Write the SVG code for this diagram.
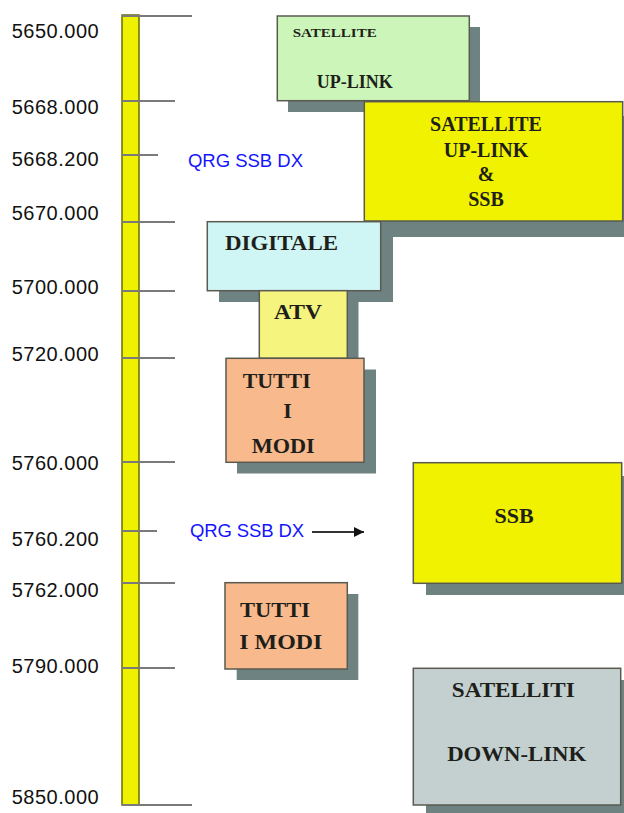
<svg xmlns="http://www.w3.org/2000/svg" width="624" height="813" viewBox="0 0 624 813">
<style>
.lbl{font-family:"Liberation Sans",Arial,sans-serif;font-size:20px;fill:#111}
.qrg{font-family:"Liberation Sans",Arial,sans-serif;font-size:18.5px;fill:#1414ff}
.bt{font-family:"Liberation Serif","Times New Roman",serif;font-weight:bold;font-size:22px;fill:#1e1e1a}
.tick{stroke:#7a7a7a;stroke-width:2}
.shadow{fill:#6f8282}
.box{stroke:#5a5a50;stroke-width:1.5}
</style>
<defs>
<marker id="ah" viewBox="0 0 10 10" refX="10" refY="5" markerWidth="16" markerHeight="10" markerUnits="userSpaceOnUse" orient="auto">
<path d="M0,0 L10,5 L0,10 Z" fill="#111"/>
</marker>
</defs>
<rect width="624" height="813" fill="#fff"/>
<g id="axis">
<rect x="122" y="15" width="17" height="790" fill="#eef200" stroke="#6b6b00" stroke-width="1.5"/>
<line class="tick" x1="122" y1="16" x2="192" y2="16"/>
<line class="tick" x1="122" y1="101" x2="175" y2="101"/>
<line class="tick" x1="122" y1="155" x2="158" y2="155"/>
<line class="tick" x1="122" y1="222" x2="175" y2="222"/>
<line class="tick" x1="122" y1="291" x2="175" y2="291"/>
<line class="tick" x1="122" y1="358" x2="175" y2="358"/>
<line class="tick" x1="122" y1="462" x2="175" y2="462"/>
<line class="tick" x1="122" y1="531" x2="157" y2="531"/>
<line class="tick" x1="122" y1="583" x2="175" y2="583"/>
<line class="tick" x1="122" y1="668" x2="175" y2="668"/>
<line class="tick" x1="122" y1="805" x2="192" y2="805"/>
</g>
<g id="labels">
<text class="lbl" x="11.7" y="38" textLength="87">5650.000</text>
<text class="lbl" x="11.7" y="114" textLength="87">5668.000</text>
<text class="lbl" x="11.7" y="166" textLength="87">5668.200</text>
<text class="lbl" x="11.7" y="220" textLength="87">5670.000</text>
<text class="lbl" x="11.7" y="294" textLength="87">5700.000</text>
<text class="lbl" x="11.7" y="361" textLength="87">5720.000</text>
<text class="lbl" x="11.7" y="470" textLength="87">5760.000</text>
<text class="lbl" x="11.7" y="546" textLength="87">5760.200</text>
<text class="lbl" x="11.7" y="597" textLength="87">5762.000</text>
<text class="lbl" x="11.7" y="673" textLength="87">5790.000</text>
<text class="lbl" x="11.7" y="804" textLength="87">5850.000</text>
<text class="qrg" x="188" y="166.5" textLength="115">QRG SSB DX</text>
<text class="qrg" x="190" y="537" textLength="114">QRG SSB DX</text>
</g>
<g id="connectors">
<line x1="312" y1="532" x2="364" y2="532" stroke="#333" stroke-width="2" marker-end="url(#ah)"/>
</g>
<g id="sat-uplink">
<rect class="shadow" x="288" y="27" width="192" height="85"/>
<rect class="box" x="277.3" y="16" width="192" height="84.7" fill="#ccf6b9"/>
<text class="bt" x="292.7" y="36.5" style="font-size:12px" textLength="84" lengthAdjust="spacingAndGlyphs">SATELLITE</text>
<text class="bt" x="316.7" y="87.5" style="font-size:18px" textLength="76" lengthAdjust="spacingAndGlyphs">UP-LINK</text>
</g>
<g id="sat-uplink-ssb">
<rect class="shadow" x="376" y="116" width="260" height="121"/>
<rect class="box" x="364.3" y="101.7" width="258.4" height="119.3" fill="#f0f200"/>
<text class="bt" x="486" y="130.5" style="font-size:20px" text-anchor="middle">SATELLITE</text>
<text class="bt" x="486" y="156.5" style="font-size:20px" text-anchor="middle">UP-LINK</text>
<text class="bt" x="486" y="180.5" style="font-size:20px" text-anchor="middle">&amp;</text>
<text class="bt" x="486" y="206" style="font-size:20px" text-anchor="middle">SSB</text>
</g>
<g id="digitale">
<rect class="shadow" x="219" y="233" width="174" height="69"/>
<rect class="box" x="207.3" y="221.7" width="173.4" height="69" fill="#d0f5f5"/>
<text class="bt" x="225" y="250" textLength="113" lengthAdjust="spacingAndGlyphs">DIGITALE</text>
</g>
<g id="atv">
<rect class="shadow" x="270.5" y="302" width="88" height="67"/>
<rect class="box" x="259.3" y="290.7" width="88" height="67.6" fill="#f4f47e"/>
<text class="bt" x="274" y="319" textLength="48" lengthAdjust="spacingAndGlyphs">ATV</text>
</g>
<g id="tutti1">
<rect class="shadow" x="237" y="369.5" width="139" height="104"/>
<rect class="box" x="226" y="358.3" width="138" height="104" fill="#f8b98c"/>
<text class="bt" x="242.7" y="388" textLength="68" lengthAdjust="spacingAndGlyphs">TUTTI</text>
<text class="bt" x="283.3" y="418">I</text>
<text class="bt" x="251.7" y="452.7" textLength="63" lengthAdjust="spacingAndGlyphs">MODI</text>
</g>
<g id="ssb">
<rect class="shadow" x="426" y="476" width="210" height="119"/>
<rect class="box" x="413.3" y="462.7" width="208.4" height="120.6" fill="#f0f200"/>
<text class="bt" x="514" y="523" text-anchor="middle">SSB</text>
</g>
<g id="tutti2">
<rect class="shadow" x="236.7" y="594" width="121.6" height="86"/>
<rect class="box" x="225" y="582.7" width="122.3" height="86.3" fill="#f8b98c"/>
<text class="bt" x="240" y="616.5" textLength="70" lengthAdjust="spacingAndGlyphs">TUTTI</text>
<text class="bt" x="239.3" y="649" textLength="83" lengthAdjust="spacingAndGlyphs">I MODI</text>
</g>
<g id="sat-downlink">
<rect class="shadow" x="426" y="680" width="210" height="140"/>
<rect class="box" x="413.3" y="668.3" width="207.4" height="136.7" fill="#c3d0cf"/>
<text class="bt" x="513.3" y="697" text-anchor="middle" textLength="123" lengthAdjust="spacingAndGlyphs">SATELLITI</text>
<text class="bt" x="516.7" y="760.5" text-anchor="middle" textLength="139" lengthAdjust="spacingAndGlyphs">DOWN-LINK</text>
</g>
</svg>
